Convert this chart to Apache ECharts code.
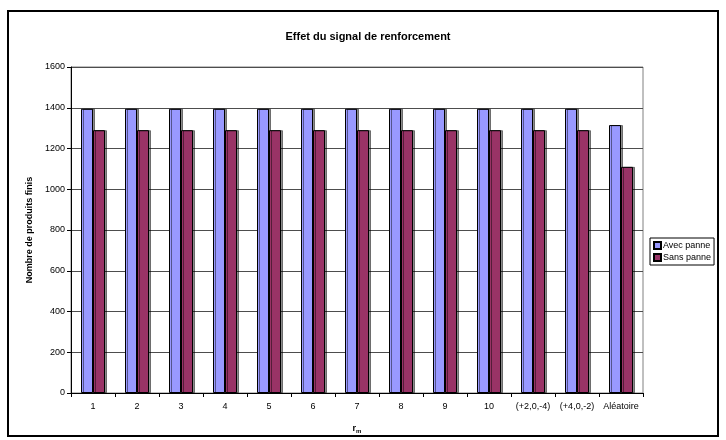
<!DOCTYPE html>
<html><head><meta charset="utf-8">
<script src="https://cdn.jsdelivr.net/npm/echarts@6/dist/echarts.min.js"></script>
<style>html,body{margin:0;padding:0;background:#fff}#c{width:726px;height:440px}</style>
</head><body><div id="c"></div>
<script>
var categories = ['1','2','3','4','5','6','7','8','9','10','(+2,0,-4)','(+4,0,-2)','Aléatoire'];
var avecPanne = [1395,1395,1395,1395,1395,1395,1395,1395,1395,1395,1395,1395,1315];
var sansPanne = [1290,1290,1290,1290,1290,1290,1290,1290,1290,1290,1290,1290,1110];
var yTicks = [0,200,400,600,800,1000,1200,1400,1600];

var chart = echarts.init(document.getElementById('c'), null, {renderer:'canvas'});
var font = 'Liberation Sans, Arial, sans-serif';
var barStyle = function(c){return {color:c, borderColor:'#000', borderWidth:1, shadowColor:'rgba(0,0,0,0.45)', shadowOffsetX:2, shadowOffsetY:0, shadowBlur:0};};
chart.setOption({
  animation:false,
  textStyle:{fontFamily:font},
  title:{text:'Effet du signal de renforcement', left:363, textAlign:'center', top:26,
    textStyle:{fontSize:11, fontWeight:'bold', color:'#000', fontFamily:font}},
  graphic:[{type:'rect', shape:{x:8,y:11,width:710,height:425}, style:{fill:'none', stroke:'#000', lineWidth:2}, silent:true}],
  grid:{left:71, top:67, width:572, height:326, show:true, borderColor:'#808080', borderWidth:1, backgroundColor:'transparent'},
  legend:{orient:'vertical', left:650, top:238, itemWidth:7, itemHeight:7, itemGap:3, padding:[3,3,3,3],
    borderColor:'#000', borderWidth:1, icon:'rect',
    textStyle:{fontSize:9, color:'#000', fontFamily:font, padding:[0,0,0,-3]},
    data:['Avec panne','Sans panne']},
  xAxis:{type:'category', data:categories,
    name:'{a|r}{b|m}', nameLocation:'middle', nameGap:30,
    nameTextStyle:{rich:{a:{fontSize:9,fontWeight:'bold',color:'#000',fontFamily:font},b:{fontSize:6,fontWeight:'bold',color:'#000',fontFamily:font,verticalAlign:'bottom',padding:[5,0,0,0]}}},
    axisLine:{lineStyle:{color:'#000',width:1}},
    axisTick:{show:true, alignWithLabel:false, length:4, lineStyle:{color:'#000'}},
    axisLabel:{fontSize:9, color:'#000', margin:9, interval:0, fontFamily:font},
    splitLine:{show:false}},
  yAxis:{type:'value', min:yTicks[0], max:yTicks[yTicks.length-1], interval:yTicks[1]-yTicks[0],
    name:'Nombre de produits finis', nameLocation:'middle', nameGap:35, nameRotate:90,
    nameTextStyle:{fontSize:9, fontWeight:'bold', color:'#000', fontFamily:font},
    axisLine:{show:true, lineStyle:{color:'#000'}},
    axisTick:{show:true, length:4, lineStyle:{color:'#000'}},
    axisLabel:{fontSize:9, color:'#000', margin:6, fontFamily:font, formatter:function(v){return String(v);}},
    splitLine:{show:true, lineStyle:{color:'#4d4d4d', width:1}}},
  series:[
    {name:'Avec panne', type:'bar', data:avecPanne, barWidth:12, barGap:'0%', itemStyle:barStyle('#9999FF')},
    {name:'Sans panne', type:'bar', data:sansPanne, barWidth:12, barGap:'0%', itemStyle:barStyle('#993366')}
  ]
});
</script></body></html>
